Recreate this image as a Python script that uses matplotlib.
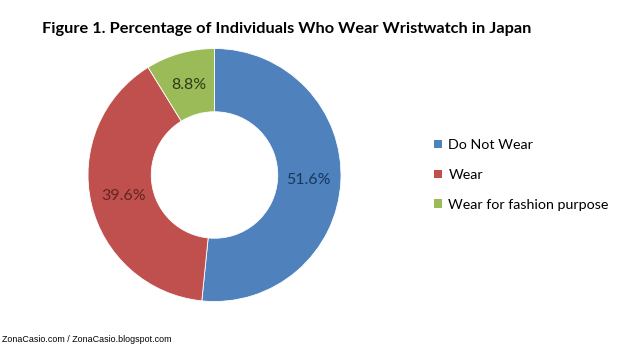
import matplotlib
matplotlib.use("Agg")
import matplotlib.pyplot as plt
from matplotlib.patches import Patch
import numpy as np

categories = ["Do Not Wear", "Wear", "Wear for fashion purpose"]
values = [51.6, 39.6, 8.8]
colors = ["#4F81BD", "#C0504D", "#9BBB59"]
label_colors = ["#17375E", "#632523", "#2E3B17"]
title = "Figure 1. Percentage of Individuals Who Wear Wristwatch in Japan"
footer = "ZonaCasio.com / ZonaCasio.blogspot.com"

fig = plt.figure(figsize=(6.4, 3.53), dpi=100)
fig.patch.set_facecolor("white")
W, H = 640, 353
cx, cy, r = 214.5, 175, 126.5
ax = fig.add_axes([(cx - r) / W, (H - cy - r) / H, 2 * r / W, 2 * r / H])
wedges, texts = ax.pie(values, colors=colors, startangle=90, counterclock=False,
                       radius=1.0, wedgeprops=dict(width=0.5, edgecolor="white", linewidth=0.6))
ang = 90.0
for v, lc in zip(values, label_colors):
    mid = ang - v / 100 * 360 / 2
    ang -= v / 100 * 360
    x = 0.74 * np.cos(np.deg2rad(mid))
    y = 0.74 * np.sin(np.deg2rad(mid))
    ax.text(x, y, f"{v:.1f}%", ha="center", va="center", fontsize=11.5,
            color=lc, family="Lato")
ax.set_xlim(-1, 1)
ax.set_ylim(-1, 1)
ax.set_aspect("equal")
ax.axis("off")

fig.text(42 / W, 1 - 29 / H, title, fontsize=11.75, fontweight="bold",
         family="Lato", ha="left", va="center", color="#000000")

handles = [Patch(facecolor=c, edgecolor="none") for c in colors]
leg = fig.legend(handles, categories, loc="upper left",
                 bbox_to_anchor=(434 / W, 1 - 139 / H), frameon=False,
                 prop=dict(family="Lato", size=10.3), handlelength=0.55, handleheight=0.55,
                 handletextpad=0.45, labelspacing=1.25, borderaxespad=0, borderpad=0)

fig.text(2 / W, 1 - 340 / H, footer, fontsize=6.4, family="Liberation Sans",
         ha="left", va="center", color="#000000")

fig.savefig("out.png", dpi=100, facecolor="white")
